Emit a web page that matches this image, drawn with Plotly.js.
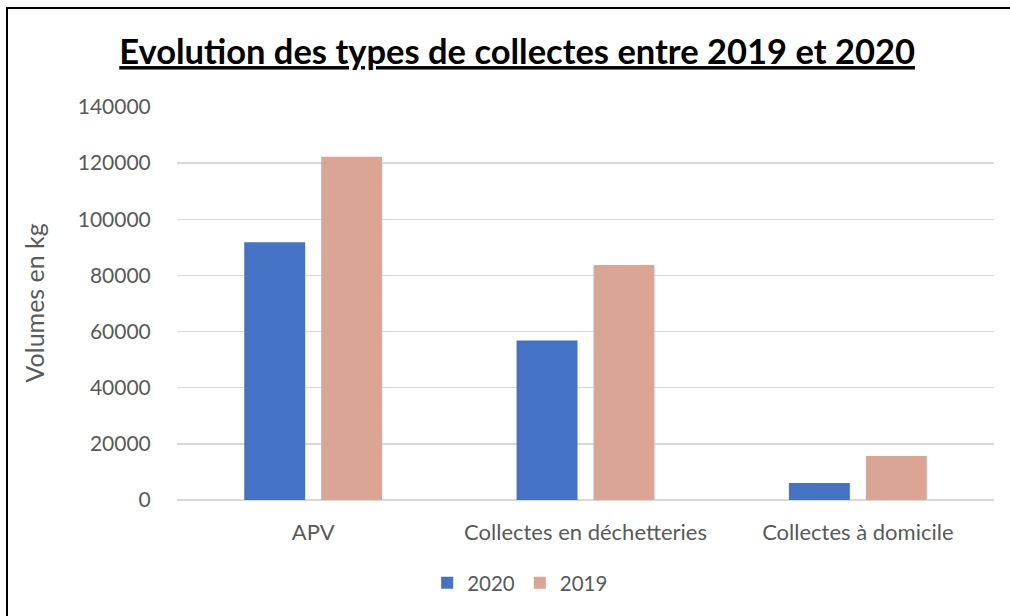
<!DOCTYPE html>
<html>
<head>
<meta charset="utf-8">
<script src="https://cdn.plot.ly/plotly-3.0.1.min.js"></script>
<style>
  html, body { margin: 0; padding: 0; background: #fff; }
  #frame { position: absolute; left: 6px; top: 7px; width: 1100px; height: 700px; border-top: 2px solid #000; border-left: 2px solid #000; pointer-events: none; z-index: 5; }
  #chart { position: absolute; left: 0; top: 0; width: 1010px; height: 616px; }
</style>
</head>
<body>
<div id="chart"></div>
<div id="frame"></div>
<script>
const categories = ["APV", "Collectes en déchetteries", "Collectes à domicile"];
const values2020 = [91800, 56800, 6050];
const values2019 = [122300, 83700, 15700];
const seriesNames = ["2020", "2019"];
const yTicks = [0, 20000, 40000, 60000, 80000, 100000, 120000, 140000];

const FONT = "Lato, 'Open Sans', sans-serif";
const GRAY = "#595959";

const traces = [
  { type: "bar", name: seriesNames[0], x: categories, y: values2020,
    marker: { color: "#4472C4" }, hoverinfo: "x+y" },
  { type: "bar", name: seriesNames[1], x: categories, y: values2019,
    marker: { color: "#DAA594" }, hoverinfo: "x+y" }
];

const layout = {
  width: 1010, height: 616,
  margin: { l: 177, r: 16, t: 107, b: 116 },
  paper_bgcolor: "#fff", plot_bgcolor: "#fff",
  font: { family: FONT, color: GRAY, size: 21 },
  barmode: "group",
  bargap: 0.435,
  bargroupgap: 0.208,
  title: {
    text: "<u><b>Evolution des types de collectes entre 2019 et 2020</b></u>",
    font: { family: FONT, size: 34.5, color: "#000" },
    xref: "container", x: 0.512, xanchor: "center",
    yref: "container", y: 1 - 52 / 616, yanchor: "middle"
  },
  xaxis: {
    type: "category",
    showgrid: false, showline: false, zeroline: false,
    ticks: "outside", ticklen: 13, tickcolor: "rgba(0,0,0,0)",
    tickfont: { family: FONT, size: 22, color: GRAY }
  },
  yaxis: {
    range: [0, 140000],
    tickvals: yTicks,
    ticktext: yTicks.map(String),
    showgrid: true, gridcolor: "#D9D9D9", gridwidth: 1.3,
    zeroline: true, zerolinecolor: "#D9D9D9", zerolinewidth: 1.3,
    showline: false,
    ticks: "outside", ticklen: 21, tickcolor: "rgba(0,0,0,0)",
    tickfont: { family: FONT, size: 21, color: GRAY }
  },
  annotations: [{
    text: "Volumes en kg", textangle: -90,
    xref: "paper", yref: "paper",
    x: (33 - 177) / 817, y: 0.5, xanchor: "center", yanchor: "middle",
    showarrow: false, font: { family: FONT, size: 25, color: GRAY }
  }],
  showlegend: true,
  legend: {
    orientation: "h", xref: "container", yref: "container",
    x: 0.515, xanchor: "center", y: 1 - 583 / 616, yanchor: "middle",
    font: { family: FONT, size: 20.5, color: GRAY },
    itemwidth: 30, traceorder: "normal"
  }
};

Plotly.newPlot("chart", traces, layout, { displayModeBar: false, staticPlot: true });
</script>
</body>
</html>
